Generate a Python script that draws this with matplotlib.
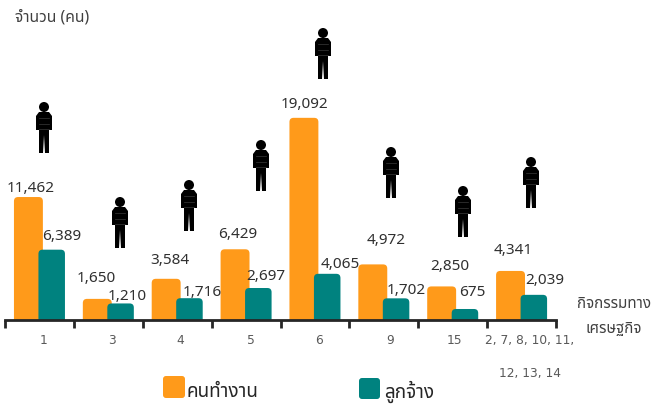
import matplotlib
matplotlib.use("Agg")
import matplotlib.pyplot as plt
from matplotlib import font_manager as fm
from matplotlib.patches import FancyBboxPatch, Circle, Polygon

categories = ["1", "3", "4", "5", "6", "9", "15", "2, 7, 8, 10, 11,\n\n12, 13, 14"]
workers = [11462, 1650, 3584, 6429, 19092, 4972, 2850, 4341]
employees = [6389, 1210, 1716, 2697, 4065, 1702, 675, 2039]

ORANGE = "#FF9A1A"
TEAL = "#00827F"
GREY = "#404040"

W, H = 651, 405
names = {f.name for f in fm.fontManager.ttflist}
thai = [n for n in ["Noto Sans Thai", "Sarabun", "Noto Sans Thai Looped"] if n in names]
plt.rcParams["font.family"] = thai + ["DejaVu Sans"]

fig = plt.figure(figsize=(W / 100, H / 100), dpi=100)

# main axes sit on the baseline, 5..556 px across, 1 unit per category
# the original's value zero sits a few px above the axis line, so ylim starts below 0
ax = fig.add_axes([5 / W, (H - 320) / H, 551 / W, 212 / H])
ax.set_xlim(0, 8)
ax.set_ylim(-385, 20039)
ax.patch.set_visible(False)
for s in ["top", "right", "left"]:
    ax.spines[s].set_visible(False)
ax.spines["bottom"].set_linewidth(2)
ax.spines["bottom"].set_color("#262626")
ax.spines["bottom"].set_zorder(5)
ax.set_yticks([])
ax.set_xticks(range(9))
ax.set_xticklabels([])
ax.tick_params(axis="x", direction="out", length=6, width=2, color="#262626")


def _round_bars(ax, bars, color, zorder):
    # swap each plain bar for a rounded one with the same extent, run down past the axis
    rx = 0.06
    for b in bars:
        x, w, h = b.get_x(), b.get_width(), b.get_height()
        b.set_visible(False)
        p = FancyBboxPatch((x, -900), w, h + 900, boxstyle=f"round,pad=0,rounding_size={rx}",
                           mutation_aspect=6640, fc=color, ec="none", zorder=zorder)
        ax.add_patch(p)


xs = list(range(len(categories)))
b1 = ax.bar([x + 0.34 for x in xs], workers, width=0.42, color=ORANGE)
b2 = ax.bar([x + 0.678 for x in xs], employees, width=0.385, color=TEAL)
_round_bars(ax, b1, ORANGE, 2)
_round_bars(ax, b2, TEAL, 3)

# pixel overlay for everything hand placed in the original
ov = fig.add_axes([0, 0, 1, 1])
ov.set_xlim(0, W)
ov.set_ylim(H, 0)
ov.axis("off")
ov.patch.set_visible(False)

label_xy1 = [(31, 188), (96, 278), (170, 260), (238, 234), (304, 104), (386, 240), (450, 266), (513, 251)]
label_xy2 = [(62, 237), (127, 296), (202, 293), (266, 276), (340, 264), (406, 290), (472, 292), (545, 281)]
for v, (x, y) in zip(workers + employees, label_xy1 + label_xy2):
    ov.text(x, y, f"{v:,}", ha="center", va="center", fontsize=11, color="#303030", family="Noto Sans")

cat_x = [44, 112, 180, 251, 319, 390, 454, 530]
for c, x in zip(categories, cat_x):
    ov.text(x, 334, c, ha="center", va="top", fontsize=8.8, color="#595959", family="DejaVu Sans", linespacing=1.35)


def person(ov, cx, cy):
    # small standing figure, 16 px wide and 52 px tall
    ov.add_patch(Circle((cx, cy - 20), 5.0, fc="black", ec="none"))
    ov.add_patch(Polygon([(cx - 5, cy - 15), (cx + 5, cy - 15), (cx + 8, cy - 11), (cx + 8, cy + 3),
                          (cx + 5, cy + 3), (cx + 5, cy + 26), (cx + 1, cy + 26), (cx, cy + 8),
                          (cx - 1, cy + 26), (cx - 5, cy + 26), (cx - 5, cy + 3), (cx - 8, cy + 3),
                          (cx - 8, cy - 11)], closed=True, fc="black", ec="none"))
    # the icon is banded with faint lighter rows
    for dy in [-9, -3, 2]:
        ov.plot([cx - 5, cx + 5], [cy + dy, cy + dy], color="#3a3a3a", lw=0.5, zorder=3)


people = [(44, 127), (120, 222), (189, 205), (261, 165), (323, 53), (391, 172), (463, 211), (531, 182)]
for cx, cy in people:
    person(ov, cx, cy)
ov.set_xlim(0, W)
ov.set_ylim(H, 0)

ov.text(15, 17, "จำนวน (คน)", ha="left", va="center", fontsize=11.3, color=GREY, fontweight="bold")
ov.text(614, 304, "กิจกรรมทาง", ha="center", va="center", fontsize=10.9, color=GREY, fontweight="bold")
ov.text(614, 330, "เศรษฐกิจ", ha="center", va="center", fontsize=10.9, color=GREY, fontweight="bold")

ov.add_patch(FancyBboxPatch((163, 376), 22, 22, boxstyle="round,pad=0,rounding_size=3", fc=ORANGE, ec="none"))
ov.add_patch(FancyBboxPatch((359, 378), 21, 21, boxstyle="round,pad=0,rounding_size=3", fc=TEAL, ec="none"))
ov.text(187, 392, "คนทำงาน", ha="left", va="center", fontsize=13.6, color="#262626", fontweight="bold")
ov.text(384, 392, "ลูกจ้าง", ha="left", va="center", fontsize=13.6, color="#262626", fontweight="bold")

fig.savefig("out.png", dpi=100)
